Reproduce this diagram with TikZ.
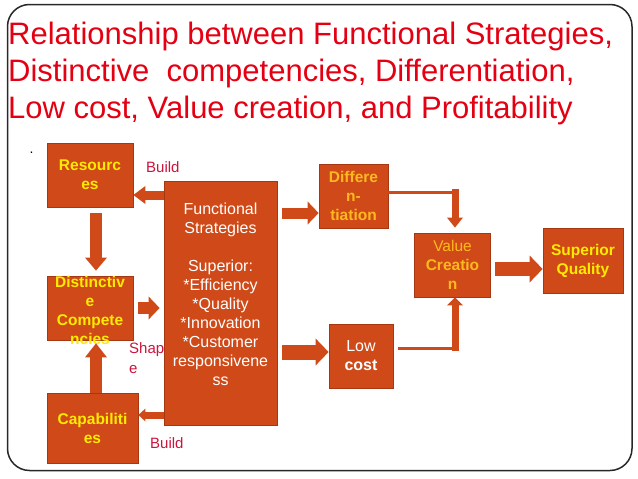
\documentclass[tikz,border=0pt]{standalone}
\usepackage{fontspec}
\setmainfont{Liberation Sans}
\usetikzlibrary{arrows.meta,calc}
\definecolor{boxfill}{RGB}{207,74,24}
\definecolor{boxedge}{RGB}{165,55,18}
\definecolor{ytext}{RGB}{255,235,0}
\definecolor{otext}{RGB}{255,184,30}
\definecolor{titlered}{RGB}{228,0,18}
\definecolor{labelred}{RGB}{204,20,60}
\definecolor{frameline}{RGB}{40,40,40}
\tikzset{
  box/.style 2 args={draw=boxedge, fill=boxfill, line width=0.8pt, inner sep=0pt,
    minimum width=#1, minimum height=#2, align=center},
  ybold/.style={text=ytext, font=\fontsize{15.5}{19}\selectfont\bfseries},
  obold/.style={text=otext, font=\fontsize{15.5}{19}\selectfont\bfseries},
  wtext/.style={text=white, font=\fontsize{16}{19}\selectfont},
  txt/.style={inner sep=0pt, align=center},
  lbl/.style={text=labelred, inner sep=0pt, font=\fontsize{15}{20}\selectfont, align=left},
  barrow/.style n args={3}{draw=boxfill, line width=#1,
    -{Triangle[width=#2, length=#3, line width=0pt]}},
  bline/.style={draw=boxfill, line width=3pt},
}
\begin{document}
\begin{tikzpicture}[x=1pt,y=-1pt]
\useasboundingbox (0,0) rectangle (638,479);
\fill[white] (0,0) rectangle (638,479);
\draw[frameline, line width=1.5pt, rounded corners=22pt] (7.5,4.5) rectangle (632,470.5);

\node[anchor=north west, inner sep=0pt, align=left, text=titlered,
  font=\fontsize{31}{37}\selectfont] (title) at (8,21.5)
  {Relationship between Functional Strategies,\\
   Distinctive~ competencies, Differentiation,\\
   Low cost, Value creation, and Profitability};
\node[anchor=base, inner sep=0pt, font=\fontsize{14}{16}\selectfont] (dot) at (31.5,153) {.};

% boxes
\node[box={86pt}{64pt}, ybold] (res) at (90,175) {Resourc\\es};
\node[box={86pt}{64pt}] (dc) at (90,308) {};
\node[txt, ybold] (dctext) at ([yshift=-2pt]dc.center) {Distinctiv\\e\\Compete\\ncies};
\node[box={91pt}{70pt}, ybold] (cap) at (92.5,428) {Capabiliti\\es};
\node[box={113pt}{244pt}] (fs) at (220.5,303) {};
\node[txt, wtext] (fstext) at ([yshift=8.5pt]fs.center)
  {Functional\\Strategies\\[19pt]Superior:\\*Efficiency\\*Quality\\*Innovation\\*Customer\\responsivene\\ss};
\node[box={69pt}{64pt}, obold] (diff) at (353.5,196) {Differe\\n-\\tiation};
\node[box={76pt}{64pt}, text=otext, font=\fontsize{15.5}{19}\selectfont] (vc) at (452.5,265)
  {Value\\\textbf{Creatio}\\\textbf{n}};
\node[box={80pt}{65pt}, ybold] (sq) at (583,260.5) {Superior\\Quality};
\node[box={64pt}{64pt}, wtext] (low) at (361,356) {Low\\\textbf{cost}};

% labels
\node[lbl, anchor=west] (build1) at (146,167) {Build};
\node[lbl, anchor=west] (build2) at (150,443) {Build};
\node[lbl, anchor=north west] (shape) at (129,342.5) {Shap\\e};

% block arrows
\draw[barrow={9pt}{18pt}{12pt}] (fs.west |- 0,195) -- (res.east |- 0,195);
\draw[barrow={12pt}{22pt}{13pt}] ([xshift=6pt,yshift=-6pt]res.south) -- ([xshift=6pt,yshift=5pt]dc.north);
\draw[barrow={12pt}{23pt}{11pt}] ([xshift=5pt]dc.east |- 0,308) -- ([xshift=-4pt]fs.west |- 0,308);
\draw[barrow={12pt}{22pt}{14pt}] ([xshift=3.5pt]cap.north) -- ([xshift=6pt,yshift=-3pt]dc.south);
\draw[barrow={7pt}{13pt}{7pt}] (fs.west |- 0,415) -- (cap.east |- 0,415);
\draw[barrow={11pt}{23pt}{11pt}] ([xshift=5pt]fs.east |- 0,213) -- (diff.west |- 0,213);
\draw[barrow={15pt}{27pt}{13pt}] ([xshift=5pt]fs.east |- 0,352) -- (low.west |- 0,352);
\draw[barrow={14pt}{27pt}{13pt}] ([xshift=4pt]vc.east |- 0,269) -- (sq.west |- 0,269);

% joining lines
\coordinate (dj) at (455,192);
\coordinate (lj) at (455,348);
\draw[bline] (diff.east |- dj) -- (dj);
\draw[barrow={7pt}{16pt}{10pt}] ([yshift=3pt]dj) -- ([yshift=5pt]vc.north -| dj);
\draw[bline] ([xshift=5pt]low.east |- lj) -- (lj);
\draw[barrow={7pt}{16pt}{8pt}] ([yshift=-3pt]lj) -- (vc.south -| lj);
\end{tikzpicture}
\end{document}
